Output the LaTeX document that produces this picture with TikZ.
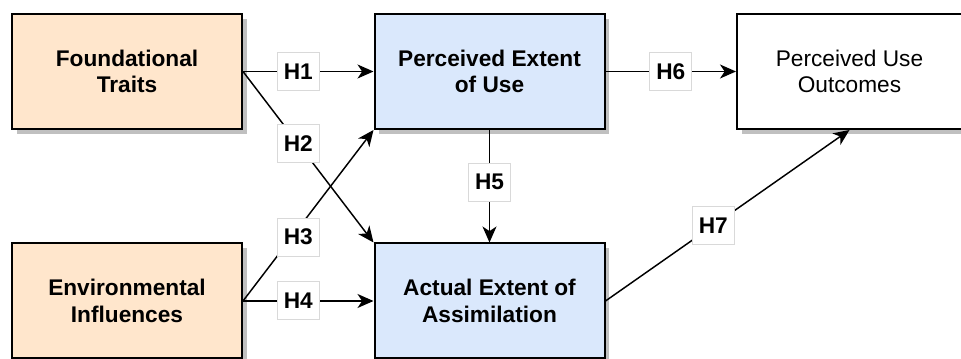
\documentclass[tikz,border=0pt]{standalone}
\usepackage{fontspec}
\setmainfont{Liberation Sans}
\usetikzlibrary{arrows.meta,shadows}
\definecolor{peach}{HTML}{FFE6CC}
\definecolor{paleblue}{HTML}{DAE8FC}
\definecolor{shadegray}{HTML}{C0C0C0}
\definecolor{tagline}{HTML}{D9D9D9}

\begin{document}
\begin{tikzpicture}[x=0.75pt,y=-0.75pt,
  box/.style={draw=black, line width=1.5pt, rectangle,
    minimum width=172.5pt, minimum height=86.25pt, align=center,
    inner sep=0pt, font=\fontsize{17}{20}\selectfont,
    drop shadow={shadow xshift=3.5pt, shadow yshift=-3.5pt, fill=shadegray, opacity=1}},
  trait/.style={box, fill=peach, font=\fontsize{17}{20}\selectfont\bfseries},
  usebox/.style={box, fill=paleblue, font=\fontsize{17}{20}\selectfont\bfseries},
  outbox/.style={box, fill=white, minimum width=168.75pt},
  link/.style={draw=black, line width=1.1pt,
    -{Stealth[length=12pt, width=10.5pt, inset=3.5pt]}},
  hlab/.style={draw=tagline, line width=0.75pt, fill=white, rectangle,
    minimum width=31.5pt, minimum height=28.5pt, inner sep=0pt,
    font=\fontsize{17}{20}\selectfont\bfseries}
]
\useasboundingbox (0,0) rectangle (961,359);

% antecedents
\node[trait] (ft) at (127,71.5) {Foundational\\Traits};
\node[trait] (ei) at (127,301) {Environmental\\Influences};

% extent of use
\node[usebox] (pe) at (489.5,71.5) {Perceived Extent\\of Use};
\node[usebox] (ae) at (489.5,301) {Actual Extent of\\Assimilation};

% outcomes
\node[outbox] (po) at (849.5,71.5) {Perceived Use\\Outcomes};

% hypothesised paths
\draw[link] (ft.east) -- node[hlab, pos=0.424] {H1} (pe.west);
\draw[link] (ft.east) -- node[hlab, pos=0.424] {H2} (ae.north west);
\draw[link] (ei.east) -- node[hlab, pos=0.424, yshift=-6.5pt] {H3} (pe.south west);
\draw[link] (ei.east) -- node[hlab, pos=0.424] {H4} (ae.west);
\draw[link] (pe.south) -- node[hlab, pos=0.465] {H5} (ae.north);
\draw[link] (pe.east) -- node[hlab, pos=0.5] {H6} (po.west);
\draw[link] (ae.east) -- node[hlab, pos=0.442] {H7} (po.south);
\end{tikzpicture}
\end{document}
